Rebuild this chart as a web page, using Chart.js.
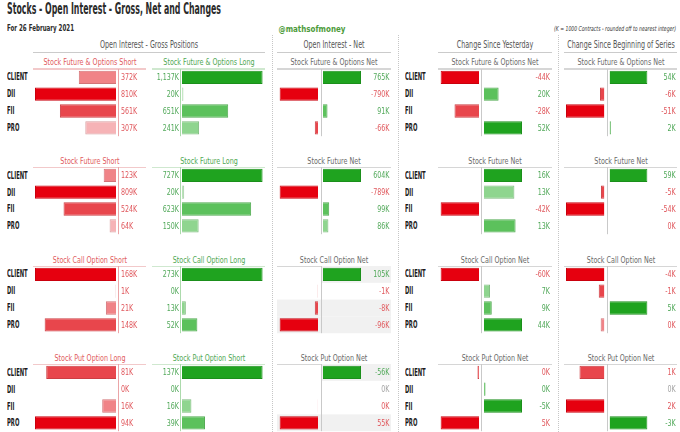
<!DOCTYPE html>
<html>
<head>
<meta charset="utf-8">
<script src="https://cdn.jsdelivr.net/npm/chart.js@4.4.0/dist/chart.umd.min.js"></script>
<style>
html, body { margin: 0; padding: 0; background: #fff; }
#stage { position: relative; width: 680px; height: 432px; overflow: hidden; }
.t { position: absolute; white-space: nowrap; }
.box { position: absolute; }
</style>
</head>
<body>
<div id="stage"></div>
<script>
// ---- data (K contracts) ----
const groups = ['CLIENT', 'DII', 'FII', 'PRO'];

// gross positions
const foShort = [372, 810, 561, 307];
const foLong = [1137, 20, 651, 241];
const futShort = [123, 809, 524, 64];
const futLong = [727, 20, 623, 150];
const callShort = [168, 1, 21, 148];
const callLong = [273, 0, 13, 52];
const putLong = [81, 0, 16, 94];
const putShort = [137, 0, 16, 39];

// open interest - net
const foNet = [765, -790, 91, -66];
const futNet = [604, -789, 99, 86];
const callNet = [105, -1, -8, -96];
const putNet = [-56, 0, 0.3, 55];      // put nets: printed value, bar is drawn with the opposite sign

// change since yesterday
const foChgDay = [-44, 20, -28, 52];
const futChgDay = [16, 12.8, -42, 13.3];
const callChgDay = [-60, 7, 9, 44];
const putChgDay = [0.2, -0.2, -5, 5];

// change since beginning of series
const foChgSer = [54, -6, -51, 2];
const futChgSer = [59, -5, -54, -0.2];
const callChgSer = [-4, -0.6, 5, -0.4];
const putChgSer = [1.3, 0, 2, -3];

const shortTitles = ['Stock Future & Options Short', 'Stock Future Short', 'Stock Call Option Short', 'Stock Put Option Long'];
const longTitles = ['Stock Future & Options Long', 'Stock Future Long', 'Stock Call Option Long', 'Stock Put Option Short'];
const netTitles = ['Stock Future & Options Net', 'Stock Future Net', 'Stock Call Option Net', 'Stock Put Option Net'];

const sections = [
  { short: foShort, long: foLong, net: [foNet, foChgDay, foChgSer], sign: 1 },
  { short: futShort, long: futLong, net: [futNet, futChgDay, futChgSer], sign: 1 },
  { short: callShort, long: callLong, net: [callNet, callChgDay, callChgSer], sign: 1 },
  { short: putLong, long: putShort, net: [putNet, putChgDay, putChgSer], sign: -1 },
];

// ---- look ----
const RED = ['#e6000f', '#e8464c', '#f08387', '#f6b3b6'];
const GREEN = ['#1fa31f', '#5cc15c', '#8fd58f', '#b8e5b8'];
const RED_TXT = '#e0585d', GREEN_TXT = '#52a95a', GREY_TXT = '#a3a3a3';
const ROW_H = 16.8;
const VAL_SIZE = 9.2;
const secTop = [68.6, 167.2, 265.8, 364.4];

const stage = document.getElementById('stage');
const mctx = document.createElement('canvas').getContext('2d');

function hasFont(name) {
  const s = 'CLIENT Stock Future & Options 1,137K';
  mctx.font = '20px monospace'; const a = mctx.measureText(s).width;
  mctx.font = '20px "' + name + '", monospace'; const b = mctx.measureText(s).width;
  return Math.abs(a - b) > 0.5;
}
const FAM = '"' + (['Liberation Sans Narrow', 'DejaVu Sans Condensed', 'Roboto Condensed', 'Roboto', 'Liberation Sans'].find(hasFont) || 'Liberation Sans') + '", sans-serif';

const fontStr = (size, weight, style) => (style || 'normal') + ' ' + (weight || 400) + ' ' + size + 'px ' + FAM;
function measure(text, size, weight, style) {
  mctx.font = fontStr(size, weight, style);
  return mctx.measureText(text).width;
}
const fit = (text, size, weight, width, style) => width / measure(text, size, weight, style);

const F = {
  sect: fit('Open Interest - Gross Positions', 9.6, 400, 98),
  ptitle: fit('Stock Future & Options Short', 9.2, 400, 93),
  row: fit('CLIENT', 9.8, 700, 20.7),
  val: fit('1,137K', VAL_SIZE, 400, 22.3),
};

function addText(text, x, cy, o) {
  const d = document.createElement('div');
  d.className = 't';
  d.textContent = text;
  d.style.font = fontStr(o.size, o.weight, o.style);
  d.style.lineHeight = o.size + 'px';
  d.style.color = o.color;
  d.style.left = x + 'px';
  d.style.top = (cy - o.size * 0.48) + 'px';
  const al = o.align || 'left';
  const f = o.f || 1;
  d.style.transformOrigin = al === 'center' ? '50% 50%' : al === 'right' ? '100% 50%' : '0 50%';
  d.style.transform = 'translateX(' + (al === 'center' ? '-50%' : al === 'right' ? '-100%' : '0') + ') scaleX(' + f + ')';
  stage.appendChild(d);
}
function hLine(x0, x1, y, w, color) {
  const d = document.createElement('div');
  d.className = 'box';
  d.style.cssText += 'left:' + x0 + 'px;top:' + (y - w / 2) + 'px;width:' + (x1 - x0) + 'px;height:' + w + 'px;background:' + color;
  stage.appendChild(d);
}
function vDots(x, y0, y1) {
  const d = document.createElement('div');
  d.className = 'box';
  d.style.cssText += 'left:' + x + 'px;top:' + y0 + 'px;height:' + (y1 - y0) + 'px;width:0;border-left:1px dotted #c6c6c6';
  stage.appendChild(d);
}

const fmt = v => (Math.round(v) || 0).toLocaleString('en-US') + 'K';

function darken(hex) {
  const n = parseInt(hex.slice(1), 16);
  const c = [n >> 16, (n >> 8) & 255, n & 255].map(v => Math.round(v * 0.88));
  return 'rgb(' + c.join(',') + ')';
}

function rankColors(vals, palette) {
  const out = vals.map(() => 'rgba(0,0,0,0)');
  vals.map((v, i) => [Math.abs(v), i]).filter(p => p[0] > 0).sort((a, b) => b[0] - a[0])
    .forEach((p, r) => { out[p[1]] = palette[r]; });
  return out;
}
function netColors(vals) {
  const pos = rankColors(vals.map(v => (v > 0 ? v : 0)), GREEN);
  const neg = rankColors(vals.map(v => (v < 0 ? v : 0)), RED);
  return vals.map((v, i) => (v > 0 ? pos[i] : neg[i]));
}

// ---- decoration plugin: row shading, zero line, value labels ----
const decoByCanvas = new WeakMap();
const decoPlugin = {
  id: 'panelDeco',
  beforeDatasetsDraw(chart) {
    const o = decoByCanvas.get(chart.canvas);
    if (!o) return;
    const { ctx, chartArea, scales } = chart;
    ctx.save();
    (o.shade || []).forEach(s => {
      const c = scales.y.getPixelForValue(s[0]);
      ctx.fillStyle = '#f1f1f1';
      ctx.fillRect(s[1], c - ROW_H / 2, s[2] - s[1], ROW_H);
    });
    if (o.axisX != null) {
      ctx.strokeStyle = o.axisColor;
      ctx.lineWidth = 1;
      ctx.beginPath();
      ctx.moveTo(o.axisX, chartArea.top);
      ctx.lineTo(o.axisX, chartArea.bottom);
      ctx.stroke();
    }
    ctx.restore();
  },
  afterDatasetsDraw(chart) {
    const o = decoByCanvas.get(chart.canvas);
    if (!o || !o.labels) return;
    const { ctx, scales } = chart;
    o.labels.forEach((t, i) => {
      const cy = scales.y.getPixelForValue(i);
      ctx.save();
      ctx.font = fontStr(VAL_SIZE, 400);
      ctx.fillStyle = o.labelColors[i];
      ctx.textAlign = o.align;
      ctx.textBaseline = 'middle';
      ctx.translate(o.labelX, cy + 0.6);
      ctx.scale(F.val, 1);
      ctx.fillText(t, 0, 0);
      ctx.restore();
    });
  }
};

function makeChart(boxL, boxR, top, areaL, areaR, values, colors, xmin, xmax, reverse, deco) {
  const h = 70;
  const wrap = document.createElement('div');
  wrap.className = 'box';
  wrap.style.cssText += 'left:' + boxL + 'px;top:' + (top - 1) + 'px;width:' + (boxR - boxL) + 'px;height:' + h + 'px';
  const cv = document.createElement('canvas');
  wrap.appendChild(cv);
  stage.appendChild(wrap);
  decoByCanvas.set(cv, deco);
  return new Chart(cv, {
    type: 'bar',
    data: {
      labels: groups,
      datasets: [{
        data: values,
        backgroundColor: colors,
        borderColor: colors.map(c => (c[0] === '#' ? darken(c) : c)),
        borderWidth: 1,
        barPercentage: 0.79,
        categoryPercentage: 1
      }]
    },
    options: {
      indexAxis: 'y',
      responsive: true,
      maintainAspectRatio: false,
      animation: false,
      events: [],
      layout: { padding: { left: areaL - boxL, right: boxR - areaR, top: 1, bottom: h - 1 - ROW_H * 4 } },
      scales: {
        x: { display: false, min: xmin, max: xmax, reverse: reverse },
        y: { display: false }
      },
      plugins: { legend: { display: false }, tooltip: { enabled: false } }
    },
    plugins: [decoPlugin]
  });
}

// net columns: open interest net, change since yesterday, change since beginning
const netCols = [
  { negBox: [277, 321], neg: [279.5, 318], axis: 321.5, posBox: [321, 392], pos: [323, 361], lab: 389.5, title: 334, line: [277, 391] },
  { negBox: [438, 481], neg: [440.5, 479], axis: 481.5, posBox: [481, 553], pos: [484, 522], lab: 550, title: 495, line: [438, 552] },
  { negBox: [564, 607], neg: [566, 604.5], axis: 607.5, posBox: [607, 678], pos: [609.5, 647.5], lab: 675.7, title: 620.5, line: [564, 677] },
];
// grey highlighted cells: [section, net column, row, 'pos' | 'all']
const shadedCells = [[2, 0, 0, 'pos'], [2, 0, 2, 'all'], [2, 0, 3, 'all'], [3, 0, 0, 'pos'], [3, 0, 3, 'all']];

// ---- header ----
addText('Stocks - Open Interest - Gross, Net and Changes', 7, 9.2, { size: 15, weight: 700, color: '#2b2b2b', f: fit('Stocks - Open Interest - Gross, Net and Changes', 15, 700, 214) });
addText('For 26 February 2021', 7, 28.5, { size: 8, weight: 700, color: '#2b2b2b', f: fit('For 26 February 2021', 8, 700, 67) });
addText('@mathsofmoney', 312, 29, { size: 8.5, weight: 700, color: '#4d9b3a', align: 'center', f: fit('@mathsofmoney', 8.5, 700, 67) });
addText('(K = 1000 Contracts - rounded off to nearest integer)', 675.5, 29.3, { size: 6.8, style: 'italic', color: '#333', align: 'right', f: fit('(K = 1000 Contracts - rounded off to nearest integer)', 6.8, 400, 122, 'italic') });

[272, 397.5, 558].forEach(x => vDots(x, 35, 432));

const sectOpt = { size: 9.6, color: '#555', align: 'center', f: F.sect };
addText('Open Interest - Gross Positions', 149, 45, sectOpt);
addText('Open Interest - Net', 334, 45, sectOpt);
addText('Change Since Yesterday', 495, 45, sectOpt);
addText('Change Since Beginning of Series', 620.5, 45, sectOpt);
hLine(33, 265, 52.3, 1.6, '#cbcbcb');
hLine(277, 391, 52.3, 1.6, '#cbcbcb');
hLine(438, 552, 52.3, 1.6, '#cbcbcb');
hLine(564, 677, 52.3, 1.6, '#cbcbcb');

// ---- panels ----
sections.forEach((sec, s) => {
  const top = secTop[s];
  const ty = top - 6.8;

  groups.forEach((g, i) => {
    const cy = top + ROW_H * (i + 0.5);
    addText(g, 7, cy, { size: 9.8, weight: 700, color: '#1c1c1c', f: F.row });
    addText(g, 405, cy, { size: 9.8, weight: 700, color: '#1c1c1c', f: F.row });
  });

  // gross short (bars grow to the left)
  addText(shortTitles[s], 89.5, ty, { size: 9.2, color: '#df5b5e', align: 'center', f: F.ptitle });
  hLine(33, 146, top + 0.4, 1.3, '#f2c9ca');
  makeChart(31, 150, top, 35, 116, sec.short, rankColors(sec.short, RED), 0, Math.max(...sec.short), true,
    { axisX: 118.5 - 31, axisColor: '#eba5a7', labels: sec.short.map(fmt), labelColors: sec.short.map(() => RED_TXT), labelX: 121 - 31, align: 'left' });

  // gross long
  addText(longTitles[s], 208.5, ty, { size: 9.2, color: '#4fa853', align: 'center', f: F.ptitle });
  hLine(152, 265, top + 0.4, 1.3, '#cfe8cf');
  makeChart(150, 266, top, 182, 262.7, sec.long, rankColors(sec.long, GREEN), 0, Math.max(...sec.long), false,
    { axisX: 180.5 - 150, axisColor: '#acdaac', labels: sec.long.map(fmt), labelColors: sec.long.map(() => GREEN_TXT), labelX: 179 - 150, align: 'right' });

  // nets: negative and positive sides have their own scales
  netCols.forEach((col, k) => {
    const printed = sec.net[k];
    const bars = printed.map(v => v * sec.sign);
    const colors = netColors(bars);
    const maxNeg = Math.max(1e-6, ...bars.map(v => -v));
    const maxPos = Math.max(1e-6, ...bars);
    const shade = shadedCells.filter(c => c[0] === s && c[1] === k);

    addText(netTitles[s], col.title, ty, { size: 9.2, color: '#6a6a6a', align: 'center', f: F.ptitle });
    hLine(col.line[0], col.line[1], top + 0.4, 1.3, '#d6d6d6');

    makeChart(col.negBox[0], col.negBox[1], top, col.neg[0], col.neg[1],
      bars.map(v => (v < 0 ? v : null)), colors, -maxNeg, 0, false,
      { shade: shade.filter(c => c[3] === 'all').map(c => [c[2], 0, col.negBox[1] - col.negBox[0]]) });

    makeChart(col.posBox[0], col.posBox[1], top, col.pos[0], col.pos[1],
      bars.map(v => (v > 0 ? v : null)), colors, 0, maxPos, false,
      {
        shade: shade.map(c => [c[2], col.axis - col.posBox[0], col.line[1] - col.posBox[0]]),
        axisX: col.axis - col.posBox[0], axisColor: '#c9c9c9',
        labels: printed.map(fmt),
        labelColors: bars.map(v => (v > 0 ? GREEN_TXT : v < 0 ? RED_TXT : GREY_TXT)),
        labelX: col.lab - col.posBox[0], align: 'right'
      });
  });
});
</script>
</body>
</html>
